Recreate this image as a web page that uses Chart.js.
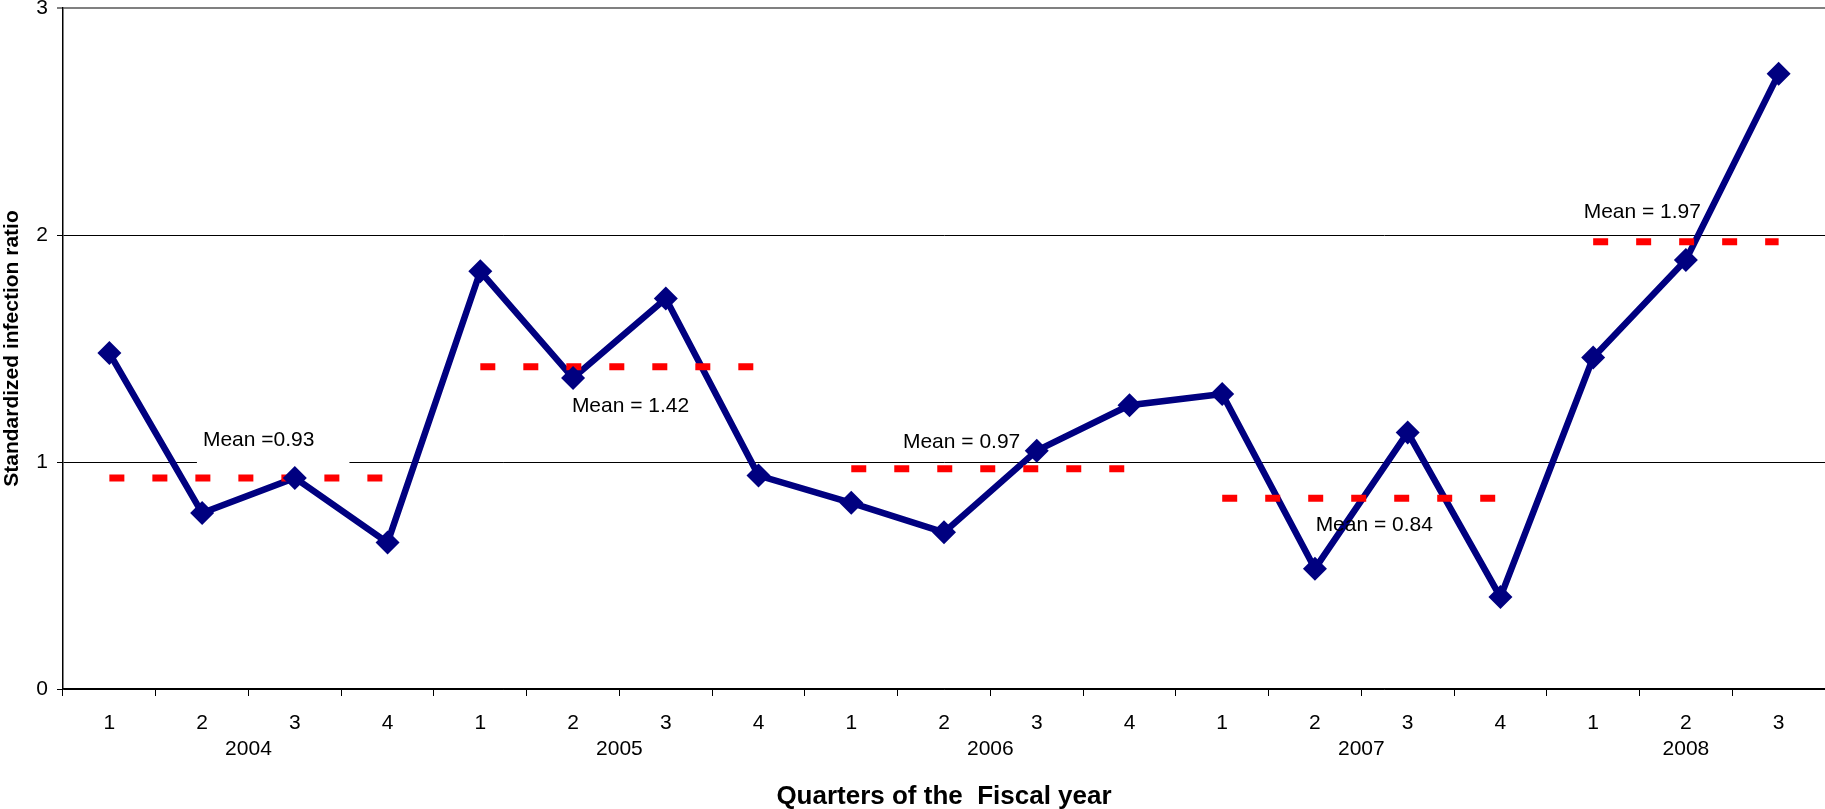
<!DOCTYPE html>
<html>
<head>
<meta charset="utf-8">
<script src="https://cdn.jsdelivr.net/npm/chart.js@4/dist/chart.umd.min.js"></script>
<style>
  html, body { margin: 0; padding: 0; background: #ffffff; }
  #c { display: block; }
</style>
</head>
<body>
<canvas id="c" width="1825" height="809"></canvas>
<script>
// Quarter of each observation and the fiscal year it belongs to
const quarters = ['1','2','3','4','1','2','3','4','1','2','3','4','1','2','3','4','1','2','3'];
const fiscalYears = [2004,2004,2004,2004,2005,2005,2005,2005,2006,2006,2006,2006,2007,2007,2007,2007,2008,2008,2008];

// Standardized infection ratio per quarter
const infectionRatio = [1.48, 0.775, 0.93, 0.645, 1.84, 1.37, 1.72, 0.94, 0.82, 0.69, 1.05, 1.25, 1.30, 0.53, 1.13, 0.405, 1.46, 1.89, 2.71];

// Yearly means and their annotations
const years = [2004, 2005, 2006, 2007, 2008];
const yearMeans = [0.93, 1.42, 0.97, 0.84, 1.97];
const meanLabels = ['Mean =0.93', 'Mean = 1.42', 'Mean = 0.97', 'Mean = 0.84', 'Mean = 1.97'];

// Value axis ticks
const yTicks = [0, 1, 2, 3];

// Where each mean annotation sits: category position and pixel offset from its mean line
const meanLabelPlacement = [
  { at: 1.61, dy: -38, backdrop: { l: 6, r: 35, t: 14, b: 26 } },
  { at: 5.62, dy: 40 },
  { at: 9.19, dy: -27 },
  { at: 13.64, dy: 27 },
  { at: 16.53, dy: -30 }
];

const FONT = "'Liberation Sans', Arial, Helvetica, sans-serif";
const NAVY = '#000080';
const RED = '#ff0000';

// One dashed segment per fiscal year, spanning that year's quarters
const meanDatasets = years.map((yr, i) => ({
  label: 'mean ' + yr,
  data: fiscalYears.map(fy => (fy === yr ? yearMeans[i] : null)),
  borderColor: RED,
  borderWidth: 7,
  borderDash: [15, 28],
  borderCapStyle: 'butt',
  pointRadius: 0,
  spanGaps: false,
  fill: false,
  order: 2
}));

const annotationPlugin = {
  id: 'yearAndMeanText',
  beforeDatasetsDraw(chart) {
    const ctx = chart.ctx;
    const xs = chart.scales.x, ys = chart.scales.y;
    ctx.save();
    ctx.font = '21px ' + FONT;
    meanLabels.forEach((txt, i) => {
      const p = meanLabelPlacement[i];
      if (!p.backdrop) return;
      const cx = xs.getPixelForValue(p.at);
      const cy = ys.getPixelForValue(yearMeans[i]) + p.dy;
      const w = ctx.measureText(txt).width;
      ctx.fillStyle = '#ffffff';
      ctx.fillRect(cx - w / 2 - p.backdrop.l, cy - p.backdrop.t,
                   w + p.backdrop.l + p.backdrop.r, p.backdrop.t + p.backdrop.b);
    });
    ctx.restore();
  },
  afterDraw(chart) {
    const ctx = chart.ctx;
    const xs = chart.scales.x, ys = chart.scales.y;
    ctx.save();
    ctx.fillStyle = '#000000';
    ctx.font = '21px ' + FONT;
    ctx.textAlign = 'center';
    ctx.textBaseline = 'middle';
    // year labels centred under each year's quarters
    years.forEach(yr => {
      const first = fiscalYears.indexOf(yr);
      const last = fiscalYears.lastIndexOf(yr);
      const cx = (xs.getPixelForValue(first) + xs.getPixelForValue(last)) / 2;
      ctx.fillText(String(yr), cx, xs.top + 60.5);
    });
    // mean annotations
    meanLabels.forEach((txt, i) => {
      const p = meanLabelPlacement[i];
      const cx = xs.getPixelForValue(p.at);
      const cy = ys.getPixelForValue(yearMeans[i]) + p.dy;
      ctx.fillText(txt, cx, cy);
    });
    ctx.restore();
  }
};

new Chart(document.getElementById('c'), {
  type: 'line',
  data: {
    labels: quarters,
    datasets: [
      {
        label: 'SIR',
        data: infectionRatio,
        borderColor: NAVY,
        borderWidth: 6.5,
        tension: 0,
        pointRadius: 0,
        fill: false,
        order: 3
      },
      ...meanDatasets,
      {
        label: 'SIR markers',
        data: infectionRatio,
        showLine: false,
        pointStyle: 'rectRot',
        pointRadius: 12,
        pointBackgroundColor: NAVY,
        pointBorderWidth: 0,
        order: 1
      }
    ]
  },
  options: {
    responsive: false,
    animation: false,
    devicePixelRatio: 1,
    layout: { autoPadding: false, padding: { top: 8, right: 0, bottom: 0, left: 0 } },
    plugins: {
      legend: { display: false },
      tooltip: { enabled: false }
    },
    scales: {
      x: {
        type: 'category',
        offset: true,
        grid: {
          offset: true,
          drawOnChartArea: false,
          drawTicks: true,
          tickLength: 7,
          color: '#000000',
          lineWidth: 1
        },
        border: { display: true, color: '#000000', width: 1.5 },
        ticks: {
          color: '#000000',
          font: { family: FONT, size: 21 },
          padding: 14.5,
          maxRotation: 0,
          autoSkip: false
        },
        title: {
          display: true,
          text: 'Quarters of the  Fiscal year',
          color: '#000000',
          font: { family: FONT, size: 26, weight: 'bold' },
          padding: { top: 0, bottom: -3 }
        },
        afterFit(scale) {
          scale.height = 120;
          scale.paddingLeft = 0;
          scale.paddingRight = 0;
        }
      },
      y: {
        min: 0,
        max: 3,
        afterBuildTicks(scale) {
          scale.ticks = yTicks.map(v => ({ value: v }));
        },
        grid: {
          color: (c) => (c.tick && c.tick.value === 3 ? '#808080' : '#000000'),
          lineWidth: (c) => (c.tick && c.tick.value === 3 ? 2 : 1),
          drawTicks: true,
          tickLength: 6
        },
        border: { display: true, color: '#000000', width: 1.5 },
        ticks: {
          color: '#000000',
          font: { family: FONT, size: 21 },
          padding: 9
        },
        title: {
          display: true,
          text: 'Standardized infection ratio',
          color: '#000000',
          font: { family: FONT, size: 21, weight: 'bold' },
          padding: { top: 0, bottom: 0 }
        },
        afterFit(scale) {
          scale.width = 63;
          scale.paddingTop = 0;
          scale.paddingBottom = 0;
        }
      }
    }
  },
  plugins: [annotationPlugin]
});
</script>
</body>
</html>
